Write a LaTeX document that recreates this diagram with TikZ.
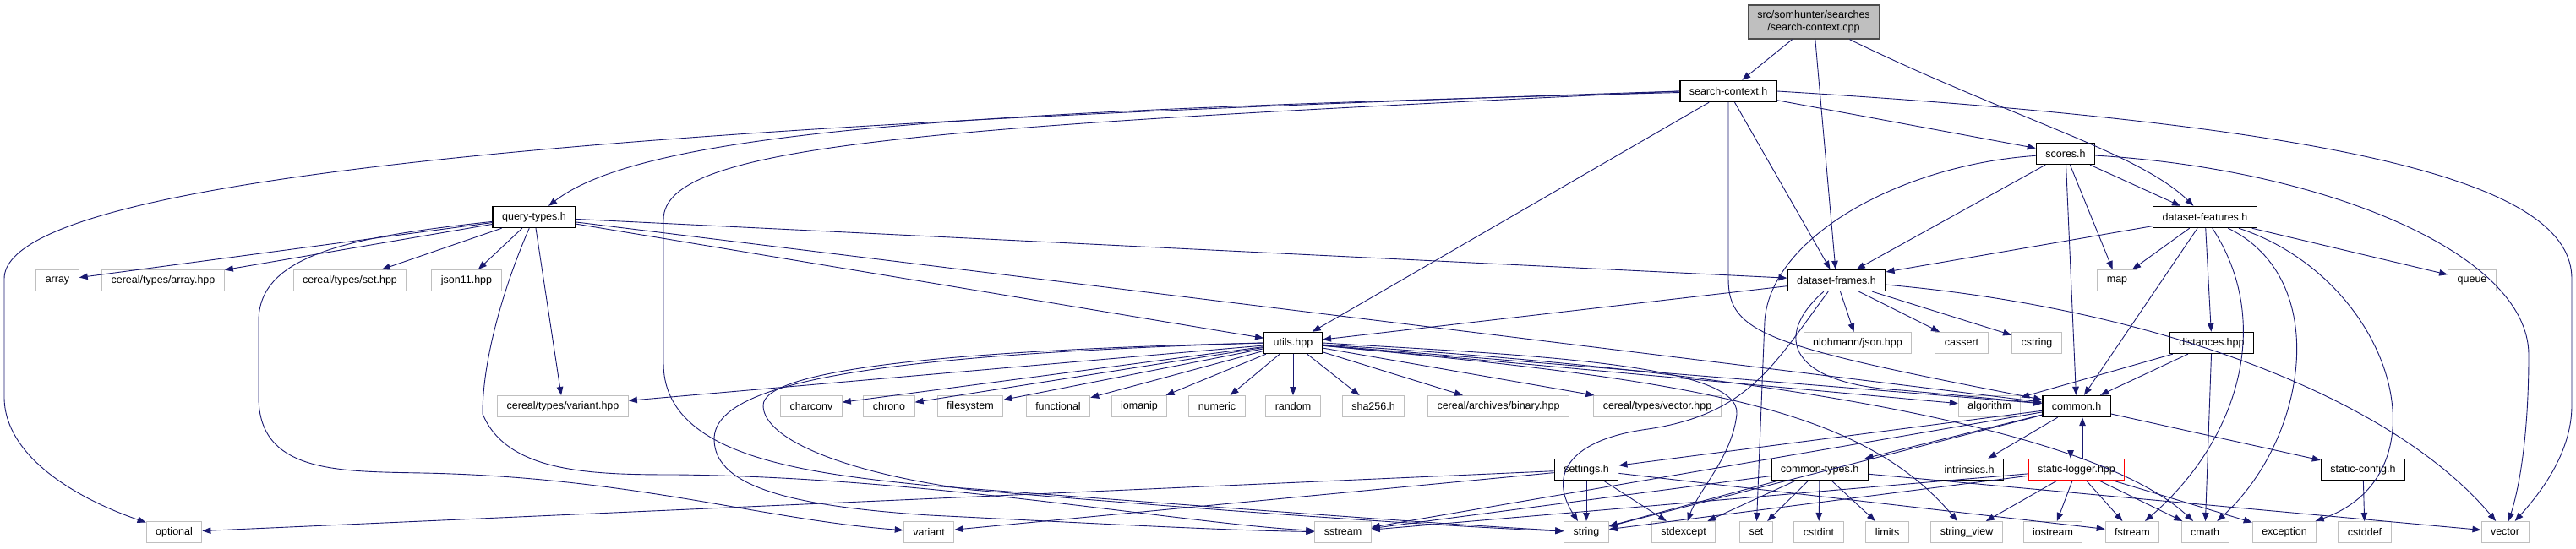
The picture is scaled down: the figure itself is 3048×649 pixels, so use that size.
\documentclass[tikz,border=0pt]{standalone}
\usepackage{fontspec}
\setmainfont{Liberation Sans}
\usetikzlibrary{arrows.meta}
\definecolor{edgeblue}{HTML}{191970}
\definecolor{extgray}{HTML}{BFBFBF}
\begin{document}
\begin{tikzpicture}[
  x=1pt, y=-1pt,
  file/.style={
    draw=black, fill=white, line width=1.4pt,
    font=\fontsize{12.5}{15}\selectfont,
    minimum height=25pt, inner xsep=11pt, inner ysep=0pt
  },
  sysfile/.style={file, draw=extgray, line width=1pt},
  rootfile/.style={file, fill=extgray, draw=black!70, minimum height=40pt, align=center},
  badfile/.style={file, draw=red, line width=1pt},
  dep/.style={draw=edgeblue, line width=0.9pt, -{Triangle[length=10pt,width=7.5pt]}},
]
\useasboundingbox (0,0) rectangle (3048,649);

% Source file and the headers it pulls in
\node[rootfile] (root) at (2146,26) {src/somhunter/searches\\/search-context.cpp};
\node[file] (sch) at (2045,108) {search-context.h};
\node[file] (scores) at (2444,182) {scores.h};
\node[file] (qt) at (632,257) {query-types.h};
\node[file] (dfeat) at (2609,257) {dataset-features.h};

% Second row
\node[sysfile] (array) at (68,332) {array};
\node[sysfile] (carr) at (193,332) {cereal/types/array.hpp};
\node[sysfile] (cset) at (414,332) {cereal/types/set.hpp};
\node[sysfile] (json) at (552,332) {json11.hpp};
\node[file] (dfr) at (2173,332) {dataset-frames.h};
\node[sysfile] (map) at (2505,332) {map};
\node[sysfile] (queue) at (2925,332) {queue};

% Third row
\node[file] (utils) at (1530,406) {utils.hpp};
\node[sysfile] (nlo) at (2198,406) {nlohmann/json.hpp};
\node[sysfile] (cassert) at (2321,406) {cassert};
\node[sysfile] (cstring) at (2410,406) {cstring};
\node[file] (dist) at (2617,406) {distances.hpp};

% Fourth row (mostly what utils.hpp includes)
\node[sysfile] (cvar) at (666,481) {cereal/types/variant.hpp};
\node[sysfile] (charconv) at (960,481) {charconv};
\node[sysfile] (chrono) at (1052,481) {chrono};
\node[sysfile] (filesystem) at (1148,481) {filesystem};
\node[sysfile] (functional) at (1252,481) {functional};
\node[sysfile] (iomanip) at (1348,481) {iomanip};
\node[sysfile] (numeric) at (1440,481) {numeric};
\node[sysfile] (random) at (1530,481) {random};
\node[sysfile] (sha) at (1625,481) {sha256.h};
\node[sysfile] (cbin) at (1773,481) {cereal/archives/binary.hpp};
\node[sysfile] (cvec) at (1961,481) {cereal/types/vector.hpp};
\node[sysfile] (algorithm) at (2354,481) {algorithm};
\node[file] (common) at (2457,481) {common.h};

% Fifth row
\node[file] (settings) at (1877,556) {settings.h};
\node[file] (ctypes) at (2153,556) {common-types.h};
\node[file] (intrin) at (2330,556) {intrinsics.h};
\node[badfile] (slog) at (2457,556) {static-logger.hpp};
\node[file] (sconf) at (2796,556) {static-config.h};

% Bottom row: standard headers
\node[sysfile] (optional) at (206,630) {optional};
\node[sysfile] (variant) at (1099,630) {variant};
\node[sysfile] (sstream) at (1589,630) {sstream};
\node[sysfile] (string) at (1877,630) {string};
\node[sysfile] (stdexcept) at (1992,630) {stdexcept};
\node[sysfile] (set) at (2078,630) {set};
\node[sysfile] (cstdint) at (2152,630) {cstdint};
\node[sysfile] (limits) at (2233,630) {limits};
\node[sysfile] (strview) at (2327,630) {string\_view};
\node[sysfile] (iostream) at (2429,630) {iostream};
\node[sysfile] (fstream) at (2523,630) {fstream};
\node[sysfile] (cmath) at (2609,630) {cmath};
\node[sysfile] (exception) at (2703,630) {exception};
\node[sysfile] (cstddef) at (2798,630) {cstddef};
\node[sysfile] (vector) at (2964,630) {vector};

% Straight include edges
\foreach \s/\t in {root/sch, root/dfr,
    sch/utils, sch/dfr, sch/scores,
    qt/array, qt/carr, qt/cset, qt/json, qt/cvar, qt/dfr, qt/utils, qt/common,
    scores/dfr, scores/dfeat, scores/map, scores/common,
    dfeat/dfr, dfeat/map, dfeat/common, dfeat/dist, dfeat/queue,
    dfr/utils, dfr/nlo, dfr/cassert, dfr/cstring,
    utils/cvar, utils/charconv, utils/chrono, utils/filesystem, utils/functional,
    utils/iomanip, utils/numeric, utils/random, utils/sha, utils/cbin, utils/cvec,
    utils/algorithm, utils/common,
    dist/common, dist/algorithm, dist/cmath,
    common/settings, common/ctypes, common/intrin, common/sconf, common/string, common/sstream,
    slog/strview, slog/iostream, slog/fstream, slog/cmath, slog/exception, slog/string, slog/sstream,
    ctypes/sstream, ctypes/string, ctypes/stdexcept, ctypes/set, ctypes/cstdint, ctypes/limits, ctypes/vector,
    settings/optional, settings/variant, settings/string, settings/stdexcept, settings/fstream,
    sconf/cstddef}
  \draw[dep] (\s) -- (\t);

% common.h <-> static-logger.hpp
\draw[dep] ([xshift=-7pt]common.south) -- ([xshift=-7pt]slog.north);
\draw[dep] ([xshift=7pt]slog.north) -- ([xshift=7pt]common.south);

% Curved edges
\draw[dep] (root) .. controls (2380,140) and (2530,180) .. (dfeat);
\draw[dep] (sch) .. controls (1200,130) and (770,150) .. (qt);
\draw[dep] (sch.west) .. controls (1000,140) and (5,190) .. (5,330) -- (5,470) .. controls (5,540) and (90,590) .. (optional);
\draw[dep] (sch.east) .. controls (2800,150) and (3043,220) .. (3043,330) -- (3043,480) .. controls (3043,540) and (3000,590) .. (vector);
\draw[dep] (sch.west) .. controls (1100,150) and (785,170) .. (785,260) -- (785,430) .. controls (785,540) and (950,560) .. (1100,575) .. controls (1500,605) and (1700,620) .. (string);
\draw[dep] (sch) -- (2045,330) .. controls (2045,395) and (2090,410) .. (common);
\draw[dep] (qt) .. controls (420,280) and (306,300) .. (306,380) -- (306,470) .. controls (306,560) and (400,558) .. (500,560) .. controls (750,565) and (900,615) .. (variant);
\draw[dep] (qt) .. controls (600,330) and (571,420) .. (571,490) .. controls (600,560) and (700,562) .. (800,562) .. controls (1100,565) and (1400,620) .. (sstream);
\draw[dep] (utils.west) .. controls (1100,415) and (903,440) .. (903,480) .. controls (903,520) and (1000,560) .. (1150,580) .. controls (1500,610) and (1750,625) .. (string);
\draw[dep] (utils.west) .. controls (1050,420) and (845,450) .. (845,520) .. controls (845,580) and (950,600) .. (1100,610) .. controls (1300,620) and (1450,628) .. (sstream);
\draw[dep] (utils.east) .. controls (1800,420) and (2060,430) .. (2055,490) .. controls (2050,540) and (2010,580) .. (stdexcept);
\draw[dep] (utils) .. controls (2000,450) and (2200,480) .. (strview);
\draw[dep] (utils) .. controls (2100,440) and (2480,510) .. (cmath);
\draw[dep] (dfr) .. controls (2100,430) and (2070,490) .. (1950,508) .. controls (1860,520) and (1830,560) .. ([xshift=-10pt]string.north);
\draw[dep] (dfr) .. controls (2095,400) and (2120,455) .. (2250,462) -- (common);
\draw[dep] (dfr) .. controls (2550,365) and (2830,470) .. (vector);
\draw[dep] (scores) .. controls (2250,195) and (2095,280) .. (2088,380) -- (set);
\draw[dep] (scores) .. controls (2750,200) and (2992,300) .. (2992,420) .. controls (2992,520) and (2980,580) .. (vector);
\draw[dep] (dfeat) .. controls (2690,380) and (2650,520) .. (fstream);
\draw[dep] (dfeat) .. controls (2760,330) and (2730,520) .. (cmath);
\draw[dep] (dfeat) .. controls (2830,330) and (2900,560) .. (exception);

\end{tikzpicture}
\end{document}
